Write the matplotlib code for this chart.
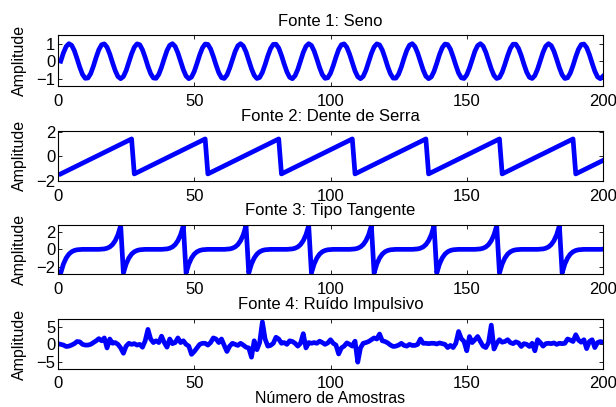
import matplotlib
matplotlib.use("Agg")
import matplotlib.pyplot as plt

plt.rcParams['font.family'] = ['Liberation Sans', 'DejaVu Sans']
plt.rcParams['font.size'] = 12

# Sample index (1..200)
samples = list(range(1, 201))

seno = [0.00, 0.48, 0.84, 1.00, 0.91, 0.60, 0.14, -0.35, -0.76, -0.98, -0.96, -0.71, -0.28,
        0.22, 0.66, 0.94, 0.99, 0.80, 0.41, -0.08, -0.54, -0.88, -1.00, -0.88, -0.54, -0.07,
        0.42, 0.80, 0.99, 0.94, 0.65, 0.21, -0.29, -0.71, -0.96, -0.98, -0.75, -0.34,
        0.15, 0.61, 0.91, 1.00, 0.84, 0.47, -0.01, -0.49, -0.85, -1.00, -0.91, -0.59, -0.13,
        0.36, 0.76, 0.98, 0.96, 0.70, 0.27, -0.22, -0.66, -0.94, -0.99, -0.79, -0.40,
        0.08, 0.55, 0.88, 1.00, 0.87, 0.53, 0.06, -0.43, -0.81, -0.99, -0.93, -0.64, -0.20,
        0.30, 0.72, 0.96, 0.97, 0.75, 0.33, -0.16, -0.61, -0.92, -1.00, -0.83, -0.47,
        0.02, 0.50, 0.85, 1.00, 0.90, 0.58, 0.12, -0.37, -0.77, -0.98, -0.95, -0.69, -0.26,
        0.23, 0.67, 0.94, 0.99, 0.79, 0.40, -0.09, -0.56, -0.89, -1.00, -0.87, -0.52, -0.05,
        0.44, 0.81, 0.99, 0.93, 0.64, 0.19, -0.31, -0.72, -0.97, -0.97, -0.74, -0.33,
        0.17, 0.62, 0.92, 1.00, 0.83, 0.46, -0.03, -0.50, -0.86, -1.00, -0.90, -0.58, -0.12,
        0.38, 0.77, 0.98, 0.95, 0.69, 0.25, -0.24, -0.68, -0.95, -0.99, -0.78, -0.39,
        0.10, 0.57, 0.89, 1.00, 0.86, 0.51, 0.04, -0.44, -0.82, -0.99, -0.93, -0.63, -0.18,
        0.31, 0.73, 0.97, 0.97, 0.73, 0.32, -0.18, -0.63, -0.92, -0.99, -0.82, -0.45,
        0.04, 0.51, 0.86, 1.00, 0.89, 0.57, 0.11, -0.38, -0.78, -0.99, -0.95, -0.68, -0.25,
        0.25, 0.68, 0.95, 0.98, 0.78, 0.38, -0.11, -0.57, -0.90, -1.00, -0.86]

# Sawtooth: vertices of the ramps (x, y)
serra_x = [1, 27, 28, 54, 55, 81, 82, 108, 109, 135, 136, 162, 163, 189, 190, 200]
serra_y = [-1.44, 1.44, -1.44, 1.44, -1.44, 1.44, -1.44, 1.44, -1.44, 1.44, -1.44, 1.44,
           -1.44, 1.44, -1.44, -0.33]

tangente = [
    -2.73, -1.69, -1.00, -0.55, -0.28, -0.13, -0.05, -0.02, 0.00, 0.00, 0.00, 0.00, 0.00, 0.00, 0.00, 0.02, 0.05, 0.13, 0.28, 0.55, 1.00, 1.69, 2.73,
    -2.73, -1.69, -1.00, -0.55, -0.28, -0.13, -0.05, -0.02, 0.00, 0.00, 0.00, 0.00, 0.00, 0.00, 0.00, 0.02, 0.05, 0.13, 0.28, 0.55, 1.00, 1.69, 2.73,
    -2.73, -1.69, -1.00, -0.55, -0.28, -0.13, -0.05, -0.02, 0.00, 0.00, 0.00, 0.00, 0.00, 0.00, 0.00, 0.02, 0.05, 0.13, 0.28, 0.55, 1.00, 1.69, 2.73,
    -2.73, -1.69, -1.00, -0.55, -0.28, -0.13, -0.05, -0.02, 0.00, 0.00, 0.00, 0.00, 0.00, 0.00, 0.00, 0.02, 0.05, 0.13, 0.28, 0.55, 1.00, 1.69, 2.73,
    -2.73, -1.69, -1.00, -0.55, -0.28, -0.13, -0.05, -0.02, 0.00, 0.00, 0.00, 0.00, 0.00, 0.00, 0.00, 0.02, 0.05, 0.13, 0.28, 0.55, 1.00, 1.69, 2.73,
    -2.73, -1.69, -1.00, -0.55, -0.28, -0.13, -0.05, -0.02, 0.00, 0.00, 0.00, 0.00, 0.00, 0.00, 0.00, 0.02, 0.05, 0.13, 0.28, 0.55, 1.00, 1.69, 2.73,
    -2.73, -1.69, -1.00, -0.55, -0.28, -0.13, -0.05, -0.02, 0.00, 0.00, 0.00, 0.00, 0.00, 0.00, 0.00, 0.02, 0.05, 0.13, 0.28, 0.55, 1.00, 1.69, 2.73,
    -2.73, -1.69, -1.00, -0.55, -0.28, -0.13, -0.05, -0.02, 0.00, 0.00, 0.00, 0.00, 0.00, 0.00, 0.00, 0.02, 0.05, 0.13, 0.28, 0.55, 1.00, 1.69, 2.73,
    -2.73, -1.69, -1.00, -0.55, -0.28, -0.13, -0.05, -0.02, 0.00, 0.00, 0.00, 0.00, 0.00, 0.00, 0.00, 0.02]

ruido = [0.0, -0.2, -0.6, -0.5, -0.2, 0.2, 0.8, 0.7, 0.0, -0.2,
         -0.2, 0.0, 0.5, 1.0, 1.6, 1.0, 1.8, -1.0, 1.5, 0.3,
         0.5, 0.0, -1.0, -2.5, -0.5, 0.3, 0.0, 0.2, -0.2, 0.0,
         -0.8, 1.0, 4.2, 1.5, 0.5, 1.0, 0.5, 2.3, 0.5, -0.8,
         1.5, 0.2, 0.5, 1.8, 0.5, 1.0, 0.0, -0.5, -2.8, -2.0,
         -1.0, 0.0, 0.3, 0.3, -0.2, 0.5, 1.8, 1.5, 0.5, 1.5,
         -0.3, -2.0, -0.5, 0.3, 0.0, -0.3, 0.3, -0.2, -0.8, -1.0,
         -3.6, 1.0, -1.5, 0.5, 6.3, 1.5, -0.5, -0.3, 0.3, 2.0,
         1.5, 0.3, 0.5, 0.0, 1.0, 0.8, 0.3, -0.5, 0.3, 3.0,
         -1.0, 0.5, 0.3, 0.5, 0.3, 0.9, 0.5, 0.0, 0.4, 1.3,
         0.3, -0.2, -2.7, -1.0, -0.5, 0.4, 0.0, -0.5, 0.9, -5.0,
         -1.0, 0.3, 0.5, 0.8, 1.3, 1.8, 1.5, 2.9, 1.0, 0.8,
         0.4, -0.2, -0.6, -0.5, -0.2, 0.3, -0.3, -0.5, 0.0, -0.3,
         -0.3, 0.0, 1.5, 0.3, 0.3, 0.2, 0.3, 0.3, 0.1, 0.4,
         0.2, 0.0, -0.9, -0.3, -0.9, 0.3, 3.6, 1.6, 0.8, -1.8,
         2.2, 0.5, 1.3, 2.2, 0.8, -0.5, -0.9, 0.5, 5.4, -1.3,
         0.3, 1.3, 0.6, 0.8, 1.3, 0.5, 0.2, 0.7, 0.4, -0.6,
         0.2, 0.0, -0.6, 0.3, -1.8, 1.3, 0.5, -0.5, 0.2, 0.3,
         0.2, 0.4, 0.0, 0.3, 0.2, 0.3, 1.5, 1.2, 0.8, 2.7,
         1.2, 0.6, 1.3, -1.2, 0.8, 1.3, -0.9, 0.5, 0.8, 0.6]

titles = ['Fonte 1: Seno', 'Fonte 2: Dente de Serra', 'Fonte 3: Tipo Tangente', 'Fonte 4: Ruído Impulsivo']
ylims = [(-1.42, 1.48), (-2.0, 2.12), (-2.85, 2.85), (-7.0, 7.2)]
yticks = [[-1, 0, 1], [-2, 0, 2], [-2, 0, 2], [-5, 0, 5]]
xticks = [0, 50, 100, 150, 200]
xlabel = 'Número de Amostras'
ylabel = 'Amplitude'

W, H = 616, 407
fig = plt.figure(figsize=(W / 100, H / 100), dpi=100)
tops = [35.3, 130.7, 224.7, 318.7]
bots = [86.0, 180.7, 274.0, 369.3]
left, right = 58, 603

axes = []
for i in range(4):
    ax = fig.add_axes([left / W, 1 - bots[i] / H, (right - left) / W, (bots[i] - tops[i]) / H])
    axes.append(ax)

blue = (0, 0, 1)
lw = 3.4
axes[0].plot(samples, seno, color=blue, lw=lw, solid_joinstyle='round')
axes[1].plot(serra_x, serra_y, color=blue, lw=lw, solid_joinstyle='round')
axes[2].plot(samples, tangente, color=blue, lw=lw, solid_joinstyle='round')
axes[3].plot(samples, ruido, color=blue, lw=lw, solid_joinstyle='round')

for i, ax in enumerate(axes):
    ax.set_xlim(0, 200)
    ax.set_ylim(*ylims[i])
    ax.set_xticks(xticks)
    ax.set_yticks(yticks[i])
    ax.set_title(titles[i], fontsize=12, pad=7)
    ax.set_ylabel(ylabel, fontsize=11.5)
    ax.yaxis.set_label_coords(-0.057, 0.5)
    ax.tick_params(direction='in', length=3, width=0.6, top=True, right=True, labelsize=12)
    ax.tick_params(axis='x', pad=6)
    ax.tick_params(axis='y', pad=2)
    for s in ax.spines.values():
        s.set_linewidth(0.8)

# x label of the last panel: place it just below its tick labels, inside the figure
ax4 = axes[3]
ax4.set_xlabel(xlabel, fontsize=11.5)
for pad in [6, 5.5, 5, 4.5, 4, 3.5, 3, 2.5, 2]:
    ax4.tick_params(axis='x', pad=pad)
    fig.canvas.draw()
    r = fig.canvas.get_renderer()
    tb = min(t.get_window_extent(r).y0 for t in ax4.get_xticklabels() if t.get_text())
    h = ax4.xaxis.label.get_window_extent(r).height
    if tb - 0.5 >= h + 0.3:
        break
bb = ax4.get_window_extent(r)
ax4.xaxis.set_label_coords(0.5, (tb - 0.5 - bb.y0) / bb.height)

fig.savefig('out.png', dpi=100)
